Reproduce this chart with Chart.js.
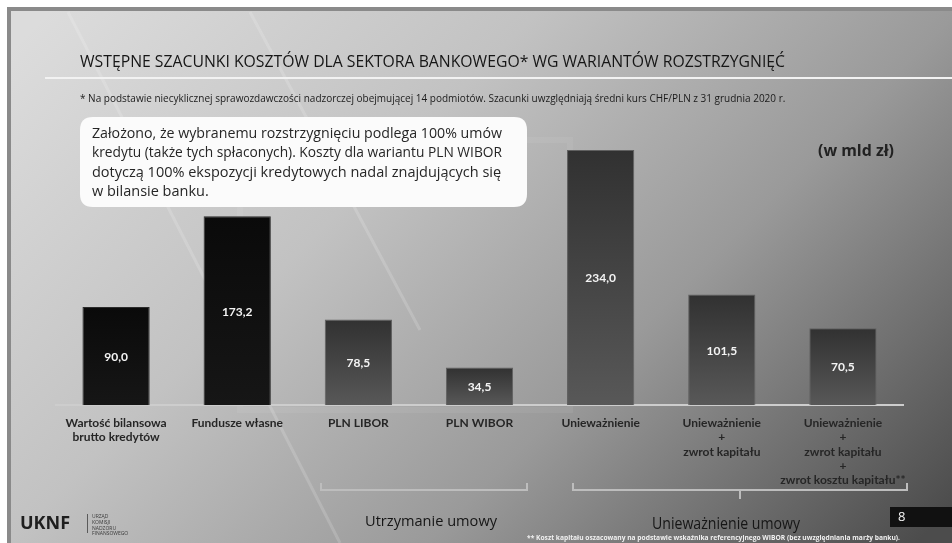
<!DOCTYPE html>
<html lang="pl">
<head>
<meta charset="utf-8">
<title>Wstępne szacunki kosztów dla sektora bankowego</title>
<script src="https://cdn.jsdelivr.net/npm/chart.js@4.4.1/dist/chart.umd.min.js"></script>
<style>
  html, body { margin: 0; padding: 0; background: #fff; }
  #wrap { width: 952px; height: 543px; position: relative; overflow: hidden; }
  canvas { display: block; }
</style>
</head>
<body>
<div id="wrap"><canvas id="costs" width="952" height="543"></canvas></div>
<script>
// categories (x axis, multi-line labels)
const categories = [
    ["Wartość bilansowa", "brutto kredytów"],
    "Fundusze własne",
    "PLN LIBOR",
    "PLN WIBOR",
    "Unieważnienie",
    ["Unieważnienie", "+", "zwrot kapitału"],
    ["Unieważnienie", "+", "zwrot kapitału", "+", "zwrot kosztu kapitału**"]
];
// koszty w mld zł
const costValues = [90.0, 173.2, 78.5, 34.5, 234.0, 101.5, 70.5];

const titleText = "WSTĘPNE SZACUNKI KOSZTÓW DLA SEKTORA BANKOWEGO* WG WARIANTÓW ROZSTRZYGNIĘĆ";
const footnoteText = "* Na podstawie niecyklicznej sprawozdawczości nadzorczej obejmującej 14 podmiotów. Szacunki uwzględniają średni kurs CHF/PLN z 31 grudnia 2020 r.";
const noteLines = [
    "Założono, że wybranemu rozstrzygnięciu podlega 100% umów",
    "kredytu (także tych spłaconych). Koszty dla wariantu PLN WIBOR",
    "dotyczą 100% ekspozycji kredytowych nadal znajdujących się",
    "w bilansie banku."
];
const unitText = "(w mld zł)";
const groupLabels = ["Utrzymanie umowy", "Unieważnienie umowy"];
const bottomNote = "** Koszt kapitału oszacowany na podstawie wskaźnika referencyjnego WIBOR (bez uwzględniania marży banku).";
const logoLines = ["URZĄD", "KOMISJI", "NADZORU", "FINANSOWEGO"];
const pageNumber = "8";

const Y_MAX = 250;

// per-bar vertical gradient, darker on top
function barFill(context) {
    const chart = context.chart;
    const y = chart.scales.y;
    const dark = context.dataIndex < 2;
    if (!y || context.raw === undefined) return dark ? "#111" : "#444";
    const top = y.getPixelForValue(context.raw);
    const base = y.getPixelForValue(0);
    if (!isFinite(top) || !isFinite(base) || top === base) return dark ? "#111" : "#444";
    const g = chart.ctx.createLinearGradient(0, top, 0, base);
    if (dark) {
        g.addColorStop(0, "#0a0a0a");
        g.addColorStop(1, "#161616");
    } else {
        g.addColorStop(0, "#313131");
        g.addColorStop(1, "#585858");
    }
    return g;
}

function roundRect(ctx, x, y, w, h, r) {
    ctx.beginPath();
    ctx.moveTo(x + r, y);
    ctx.lineTo(x + w - r, y);
    ctx.quadraticCurveTo(x + w, y, x + w, y + r);
    ctx.lineTo(x + w, y + h - r);
    ctx.quadraticCurveTo(x + w, y + h, x + w - r, y + h);
    ctx.lineTo(x + r, y + h);
    ctx.quadraticCurveTo(x, y + h, x, y + h - r);
    ctx.lineTo(x, y + r);
    ctx.quadraticCurveTo(x, y, x + r, y);
    ctx.closePath();
}

// slide background, frame and faint decoration
const slideBackground = {
    id: "slideBackground",
    beforeDraw(chart) {
        const ctx = chart.ctx;
        const W = chart.width, H = chart.height;
        ctx.save();
        ctx.fillStyle = "#ffffff";
        ctx.fillRect(0, 0, W, H);
        const g = ctx.createLinearGradient(60, 0, 760, 700);
        g.addColorStop(0, "#dcdcdc");
        g.addColorStop(0.35, "#c2c2c2");
        g.addColorStop(0.65, "#9a9a9a");
        g.addColorStop(1, "#4c4c4c");
        ctx.fillStyle = g;
        ctx.fillRect(7, 7, W - 7, H - 7);
        // faint diagonal strokes
        ctx.strokeStyle = "rgba(255,255,255,0.16)";
        ctx.lineWidth = 3;
        ctx.beginPath();
        ctx.moveTo(68, 12); ctx.lineTo(340, 543);
        ctx.moveTo(250, 12); ctx.lineTo(420, 330);
        ctx.stroke();
        ctx.strokeStyle = "rgba(255,255,255,0.06)";
        ctx.lineWidth = 6;
        ctx.strokeRect(240, 140, 330, 270);
        // frame
        ctx.fillStyle = "#8a8a8a";
        ctx.fillRect(7, 7, W - 7, 4);
        ctx.fillRect(7, 7, 4, H - 7);
        ctx.restore();
    }
};

// value labels in the middle of each bar
const barValues = {
    id: "barValues",
    afterDatasetsDraw(chart) {
        const ctx = chart.ctx;
        const meta = chart.getDatasetMeta(0);
        ctx.save();
        ctx.font = "bold 12px Lato, sans-serif";
        ctx.fillStyle = "#f4f4f4";
        ctx.textAlign = "center";
        ctx.textBaseline = "middle";
        meta.data.forEach((bar, i) => {
            const txt = costValues[i].toFixed(1).replace(".", ",");
            ctx.fillText(txt, bar.x, (bar.y + bar.base) / 2 + 1);
        });
        ctx.restore();
    }
};

// title, notes, brackets, logo
const slideText = {
    id: "slideText",
    afterDraw(chart) {
        const ctx = chart.ctx;
        ctx.save();
        ctx.textBaseline = "middle";
        ctx.textAlign = "left";

        ctx.fillStyle = "#161616";
        ctx.font = "16px 'Open Sans', sans-serif";
        ctx.fillText(titleText, 80, 62, 705);

        ctx.fillStyle = "#f2f2f2";
        ctx.fillRect(45, 77, 907, 2);

        ctx.fillStyle = "#1b1b1b";
        ctx.font = "10px 'Open Sans', sans-serif";
        ctx.fillText(footnoteText, 80, 99, 706);

        // note box
        ctx.fillStyle = "#fbfbfb";
        roundRect(ctx, 80, 117, 447, 90, 13);
        ctx.fill();
        ctx.fillStyle = "#262626";
        ctx.font = "14.5px 'Open Sans', sans-serif";
        noteLines.forEach((line, i) => {
            ctx.fillText(line, 92, 134 + i * 19.2, 410);
        });

        ctx.fillStyle = "#222";
        ctx.font = "bold 16px 'Open Sans', sans-serif";
        ctx.fillText(unitText, 818, 151, 76);

        // brackets
        ctx.strokeStyle = "#bdbdbd";
        ctx.lineWidth = 2;
        ctx.beginPath();
        ctx.moveTo(321, 483); ctx.lineTo(321, 490); ctx.lineTo(527, 490); ctx.lineTo(527, 483);
        ctx.moveTo(573, 483); ctx.lineTo(573, 490); ctx.lineTo(907, 490); ctx.lineTo(907, 483);
        ctx.moveTo(740, 490); ctx.lineTo(740, 499);
        ctx.stroke();

        ctx.textAlign = "center";
        ctx.fillStyle = "#161616";
        ctx.font = "15px 'Open Sans', sans-serif";
        ctx.fillText(groupLabels[0], 431, 522, 132);
        ctx.font = "16px 'Open Sans', sans-serif";
        ctx.fillText(groupLabels[1], 726, 524, 148);

        ctx.textAlign = "left";
        ctx.fillStyle = "#f0f0f0";
        ctx.font = "bold 7px 'Open Sans', sans-serif";
        ctx.fillText(bottomNote, 527, 538, 373);

        // page number
        ctx.fillStyle = "#111";
        ctx.fillRect(890, 507, 62, 20);
        ctx.fillStyle = "#f5f5f5";
        ctx.font = "13px 'Open Sans', sans-serif";
        ctx.fillText(pageNumber, 898, 517);

        // logo
        ctx.fillStyle = "#1e1e1e";
        ctx.font = "bold 18px 'Open Sans', sans-serif";
        ctx.fillText("UKNF", 20, 524, 57);
        ctx.fillStyle = "#5a5a5a";
        ctx.fillRect(87, 514, 1, 19);
        ctx.fillStyle = "#3a3a3a";
        ctx.font = "5px 'Open Sans', sans-serif";
        logoLines.forEach((line, i) => ctx.fillText(line, 92, 517 + i * 5.6));
        ctx.restore();
    }
};

const chartEl = document.getElementById("costs");
new Chart(chartEl.getContext("2d"), {
    type: "bar",
    data: {
        labels: categories,
        datasets: [{
            label: "Koszty (mld zł)",
            data: costValues,
            backgroundColor: barFill,
            borderColor: (c) => (c.dataIndex < 2 ? "#2c2c2c" : "#606060"),
            borderWidth: 1,
            barPercentage: 0.555,
            categoryPercentage: 1.0
        }]
    },
    options: {
        responsive: false,
        devicePixelRatio: 1,
        animation: false,
        layout: {
            padding: { left: 55.5, right: 48.5, top: 405 - Y_MAX * 1.0897, bottom: 0 }
        },
        plugins: {
            legend: { display: false },
            title: { display: false },
            tooltip: { enabled: false }
        },
        scales: {
            x: {
                grid: { display: false },
                border: { display: true, color: "#cdcdcd", width: 2 },
                ticks: {
                    color: "#262626",
                    padding: 3,
                    maxRotation: 0,
                    autoSkip: false,
                    font: { family: "Lato, sans-serif", size: 12, weight: "bold", lineHeight: 1.19 }
                },
                afterFit(axis) { axis.height = 138; }
            },
            y: {
                display: false,
                min: 0,
                max: Y_MAX
            }
        }
    },
    plugins: [slideBackground, barValues, slideText]
});
</script>
</body>
</html>
